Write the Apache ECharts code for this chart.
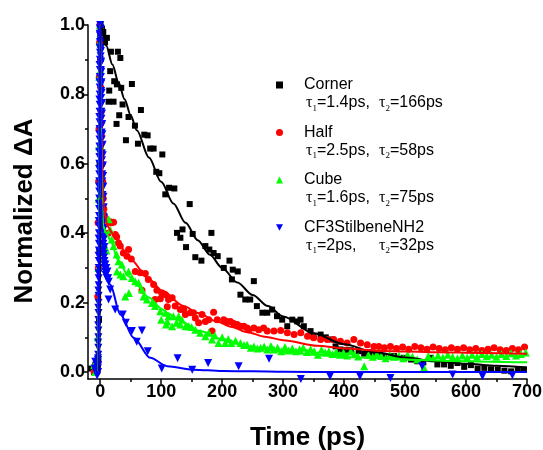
<!DOCTYPE html>
<html>
<head>
<meta charset="utf-8">
<script src="https://cdn.jsdelivr.net/npm/echarts@6/dist/echarts.min.js"></script>
<style>
  html, body { margin: 0; padding: 0; background: #fff; }
  #chart { width: 543px; height: 450px; }
</style>
</head>
<body>
<div id="chart"></div>
<script>
// Transient absorption kinetics, normalized, with biexponential fits.

const seriesNames = ['Corner', 'Half', 'Cube', 'CF3StilbeneNH2'];
const tauFast = ['=1.4ps,', '=2.5ps,', '=1.6ps,', '=2ps,'];
const tauSlow = ['=166ps', '=58ps', '=75ps', '=32ps'];

const xMajorTicks = [0, 100, 200, 300, 400, 500, 600, 700];
const xMinorTicks = [50, 150, 250, 350, 450, 550, 650];
const yMajorTicks = [0, 0.2, 0.4, 0.6, 0.8, 1.0];
const yMinorTicks = [0.1, 0.3, 0.5, 0.7, 0.9];

// [time (ps), normalized dA]
const cornerPts = [
  [-15,0.01],[-10,0.0],[-8,0.02],[-6,0.0],[-4,0.01],[-3,0.03],[-2,0.15],[-1.5,0.35],[-1,0.6],[-0.5,0.85],
  [0,0.97],[0.5,1.0],[1,0.99],[2,0.98],[3,0.99],[4,0.97],[5,0.98],[6,0.96],[8,0.95],
  [11,0.963],[13.7,0.779],[14.8,0.811],[16.4,0.867],[17.6,0.923],[21.9,0.779],[23,0.838],[26.8,0.715],
  [27.4,0.829],[29,0.923],[31.2,0.74],[33,0.905],[34.5,0.819],[36.7,0.771],[42.2,0.668],[46.5,0.735],
  [52,0.83],[57,0.71],[61.9,0.658],[66.8,0.755],[72.3,0.684],[77.8,0.682],[82,0.644],[87.6,0.644],
  [92,0.577],[97,0.573],[101.9,0.627],[106.8,0.512],[113,0.531],[121.6,0.529],[126,0.401],[131.5,0.387],
  [135,0.411],[140.8,0.36],[146.8,0.484],[151.7,0.398],[156,0.331],[166,0.321],[172.5,0.363],[179,0.353],
  [182.4,0.401],[186,0.343],[192.7,0.334],[202.7,0.3],[212,0.321],[216,0.267],[217.4,0.295],[225.6,0.29],
  [230,0.223],[238,0.209],[246,0.209],[252,0.262],[257,0.19],[266,0.171],[274,0.171],[282,0.18],
  [290,0.161],[298.5,0.151],[306.8,0.132],[315,0.151],[323,0.146],[328.6,0.151],[334,0.132],[345,0.118],
  [350,0.103],[361.5,0.108],[370,0.1],[380,0.094],[386,0.074],[394,0.065],[402,0.063],[411,0.063],
  [424,0.06],[433,0.053],[441,0.057],[449,0.053],[457,0.05],[465,0.046],[482,0.046],[498,0.041],
  [510,0.036],[520,0.031],[530,0.028],[542,0.041],[553,0.022],[564,0.022],[575,0.018],[586,0.026],
  [597,0.015],[608,0.02],[619,0.01],[630,0.012],[641,0.008],[652,0.007],[663,0.004],[674,0.002],
  [685,0.006],[695,0.007]
];
const halfPts = [
  [-10,0.0],[-8,0.01],[-6,0.02],[-5,0.0],[-4,0.218],[-3.5,0.43],[-3,0.3],[-2.5,0.55],[-2,0.7],[-1.5,0.85],
  [-1,0.95],[-0.5,1.0],[0,0.98],[0.5,0.9],[1,0.82],[1.5,0.75],[2,0.68],[3,0.6],[4,0.55],[5,0.5],
  [6,0.47],[7,0.45],[8,0.44],[10,0.43],[13,0.4],[16,0.433],[18,0.43],[21.9,0.432],[24.6,0.396],[27,0.39],
  [30,0.372],[32.9,0.363],[38,0.343],[44,0.334],[46.5,0.353],[51,0.326],[57.5,0.29],[65.7,0.286],
  [68.5,0.236],[74,0.284],[79,0.267],[87.6,0.252],[90,0.209],[93,0.236],[98.6,0.211],[101,0.228],
  [107,0.223],[110,0.188],[112,0.209],[118,0.214],[123,0.19],[131.5,0.18],[137,0.18],[139.7,0.166],
  [148,0.171],[153,0.171],[156,0.156],[161.5,0.142],[167,0.166],[172.5,0.146],[178,0.151],[183.5,0.118],
  [186,0.172],[192,0.151],[202.6,0.151],[208,0.146],[213.6,0.146],[219,0.14],[224.6,0.137],[230,0.132],
  [235.5,0.132],[241,0.127],[243.7,0.122],[252,0.127],[260,0.122],[268,0.127],[274,0.118],[285,0.118],
  [296,0.12],[307,0.113],[318,0.108],[329,0.113],[340,0.103],[350,0.099],[361.5,0.094],[372.5,0.094],
  [383,0.094],[394,0.089],[405,0.084],[416,0.094],[427,0.084],[438,0.079],[449,0.074],[457,0.074],
  [466,0.07],[476,0.074],[486,0.068],[496,0.072],[506,0.066],[516,0.074],[526,0.07],[536,0.066],
  [546,0.072],[556,0.068],[566,0.064],[576,0.07],[586,0.066],[596,0.07],[606,0.064],[616,0.068],
  [626,0.062],[636,0.066],[646,0.07],[656,0.064],[666,0.062],[676,0.068],[686,0.064],[696,0.072]
];
const cubePts = [
  [-10,0.02],[-8,0.0],[-6,0.03],[-5,0.01],[-4,0.1],[-3.5,0.05],[-3,0.3],[-2.5,0.5],[-2,0.65],[-1.5,0.85],
  [-1,0.95],[-0.5,1.0],[0,0.97],[0.5,0.87],[1,0.75],[1.5,0.65],[2,0.55],[3,0.47],[4,0.42],[5,0.4],
  [6,0.37],[8,0.36],[10,0.35],[13.7,0.44],[16.4,0.41],[19,0.382],[22,0.363],[27,0.339],[27.5,0.29],
  [30,0.319],[33,0.281],[35.6,0.31],[38,0.276],[41,0.218],[46.5,0.29],[47,0.228],[52,0.271],[57.5,0.262],
  [63,0.257],[68.5,0.238],[71,0.218],[76.7,0.209],[85,0.199],[90,0.19],[98.6,0.175],[100,0.151],
  [107,0.171],[108,0.137],[110,0.146],[112,0.161],[118,0.132],[120,0.161],[125,0.142],[128.6,0.161],
  [131.5,0.137],[134,0.151],[140,0.132],[145,0.132],[150,0.13],[156,0.122],[164,0.113],[172.5,0.103],
  [178,0.113],[183.5,0.094],[188,0.105],[194,0.084],[200,0.1],[205,0.084],[210,0.095],[215,0.084],
  [222,0.09],[230,0.084],[236,0.078],[241,0.079],[247,0.07],[252,0.074],[258,0.068],[263,0.07],
  [269,0.074],[274,0.065],[280,0.075],[285,0.065],[291,0.07],[297,0.06],[303,0.072],[309,0.062],
  [315,0.068],[321,0.06],[327,0.066],[333,0.07],[339,0.058],[345,0.066],[351,0.06],[357,0.05],
  [363,0.064],[369,0.056],[375,0.06],[381,0.052],[387,0.058],[393,0.05],[399,0.056],[405,0.048],
  [411,0.06],[417,0.052],[423,0.045],[433,0.017],[440,0.05],[447,0.044],[454,0.052],[461,0.046],
  [468,0.04],[475,0.05],[482,0.044],[490,0.048],[497,0.04],[504,0.05],[512,0.044],[520,0.036],
  [531,0.013],[538,0.046],[546,0.04],[554,0.048],[562,0.042],[570,0.05],[578,0.044],[586,0.04],
  [594,0.048],[602,0.042],[610,0.05],[618,0.044],[626,0.052],[634,0.046],[642,0.05],[650,0.044],
  [658,0.052],[666,0.046],[674,0.054],[682,0.048],[690,0.052],[698,0.056]
];
const stilbenePts = [
  [-9,0.01],[-8,0.03],[-7,0.0],[-6,0.02],[-5,-0.01],[-4.5,0.03],[-4,0.01],[-3.6,0.04],[-3.4,0.0],
  [-3.3,0.02],[-3.2,0.05],[-3.1,0.07],[-3.0,0.1],[-2.9,0.12],[-2.85,0.15],[-2.75,0.17],[-2.7,0.2],
  [-2.6,0.22],[-2.5,0.25],[-2.45,0.27],[-2.35,0.3],[-2.3,0.32],[-2.2,0.35],[-2.1,0.37],[-2.05,0.4],
  [-1.95,0.42],[-1.9,0.45],[-1.8,0.47],[-1.7,0.5],[-1.65,0.52],[-1.55,0.55],[-1.5,0.57],[-1.4,0.6],
  [-1.3,0.62],[-1.25,0.65],[-1.15,0.67],[-1.1,0.7],[-1.0,0.72],[-0.9,0.75],[-0.85,0.77],[-0.75,0.8],
  [-0.7,0.82],[-0.6,0.85],[-0.5,0.87],[-0.45,0.9],[-0.35,0.92],[-0.3,0.95],[-0.2,0.97],[-0.1,0.99],[0,1.0],
  [-3.5,0.035],[-3.4,0.085],[-3.25,0.135],[-3.1,0.185],[-2.95,0.235],[-2.8,0.285],[-2.65,0.335],
  [-2.5,0.385],[-2.35,0.435],[-2.2,0.485],[-2.05,0.535],[-1.9,0.585],[-1.75,0.635],[-1.6,0.685],
  [-1.45,0.735],[-1.3,0.785],[-1.15,0.835],[-1.0,0.885],[-0.85,0.935],[-0.7,0.975],
  [0.2,0.99],[0.35,0.97],[0.5,0.95],[0.6,0.93],[0.75,0.91],[0.9,0.89],[1.0,0.87],[1.15,0.85],[1.3,0.83],
  [1.45,0.81],[1.6,0.79],[1.75,0.77],[1.9,0.75],[2.05,0.73],[2.2,0.71],[2.35,0.69],[2.5,0.67],[2.65,0.65],
  [2.8,0.63],[2.95,0.61],[3.1,0.59],[3.25,0.57],[3.4,0.55],[3.6,0.53],[3.75,0.51],[3.9,0.49],[4.1,0.47],
  [4.3,0.45],[4.5,0.43],[4.7,0.41],[4.9,0.39],[5.2,0.37],[5.5,0.35],[5.8,0.34],[6.2,0.33],[6.6,0.31],
  [0.6,0.985],[0.9,0.955],[1.2,0.925],[1.5,0.895],[1.8,0.865],[2.1,0.835],[2.4,0.805],[2.7,0.775],
  [3.0,0.745],[3.3,0.715],[3.6,0.685],[3.9,0.655],[4.2,0.625],[4.5,0.595],[4.8,0.565],[5.1,0.535],
  [5.4,0.505],[5.7,0.475],[6.0,0.445],[6.3,0.415],[6.6,0.385],[6.9,0.36],
  [7,0.32],[7.5,0.3],[8,0.29],[8.5,0.31],[9,0.28],[10,0.3],[11,0.27],[12,0.29],[13,0.27],[14,0.26],
  [13.7,0.209],[16.4,0.238],[24.6,0.18],[37,0.166],[42,0.142],[52,0.118],[60,0.087],[68.5,0.12],
  [78,0.06],[101,0.01],[127,0.04],[151,0.007],[177,0.026],[227,0.017],[277,0.038],[329,-0.02],
  [377,-0.012],[426,-0.012],[476,-0.017],[528,0.017],[578,-0.007],[627,-0.012],[676,-0.009]
];

// Fitted curves
const cornerFit = [
  [-8,0],[-3,0],[-1,0.02],[0,0.6],[1,1.0],[2,0.995],[10,0.94],[20,0.886],[30,0.835],[40,0.786],
  [50,0.74],[60,0.697],[80,0.618],[100,0.548],[120,0.486],[140,0.43],[160,0.38],[180,0.338],[200,0.3],
  [225,0.258],[250,0.222],[275,0.19],[300,0.16],[350,0.112],[400,0.08],[450,0.058],[500,0.042],
  [550,0.031],[600,0.024],[650,0.018],[700,0.013]
];
const halfFit = [
  [-8,0],[-3,0],[-2,0.3],[-1,0.8],[0,1.0],[1,0.85],[2,0.7],[4,0.55],[6,0.48],[8,0.45],[12,0.42],
  [20,0.4],[25,0.39],[46.5,0.33],[82,0.265],[101,0.235],[137,0.19],[160,0.17],[192,0.145],[216,0.13],
  [241,0.115],[270,0.102],[300,0.092],[356,0.076],[400,0.068],[465,0.061],[550,0.057],[625,0.055],
  [700,0.053]
];
const cubeFit = [
  [-8,0],[-3,0],[-2,0.3],[-1,0.8],[0,1.0],[1,0.75],[2,0.58],[3,0.48],[5,0.42],[10,0.4],[16.4,0.38],
  [30,0.32],[46.5,0.276],[57.5,0.255],[80,0.215],[101,0.182],[110,0.17],[130,0.148],[164,0.118],
  [200,0.095],[246,0.072],[300,0.058],[350,0.05],[411,0.043],[500,0.036],[575,0.032],[640,0.03],
  [700,0.028]
];
const stilbeneFit = [
  [-8,0],[-2.5,0],[-1.5,0.5],[-0.5,0.95],[0,1.0],[1,0.7],[2,0.5],[3,0.4],[5,0.32],[8,0.29],
  [16.4,0.252],[33,0.166],[55,0.099],[82,0.041],[110,0.017],[153,0.007],[200,0.003],[250,0.002],
  [300,0.001],[400,0.0],[700,0.0]
];

const colors = ['#000000', '#ff0000', '#00ff00', '#0000ff'];
const downTriangle = 'path://M0,0L10,0L5,9Z';
const symbols = ['rect', 'circle', 'triangle', downTriangle];
const symbolSizes = [6, 7, 8, 8];
const pointSets = [cornerPts, halfPts, cubePts, stilbenePts];
const fitSets = [cornerFit, halfFit, cubeFit, stilbeneFit];

const chart = echarts.init(document.getElementById('chart'));

// Each sample set is followed by its fit, so later samples sit on top of earlier ones.
const allSeries = [];
pointSets.forEach((pts, i) => {
  allSeries.push({
    name: seriesNames[i],
    type: 'scatter',
    data: pts,
    symbol: symbols[i],
    symbolSize: symbolSizes[i],
    itemStyle: { color: colors[i], opacity: 1 },
    animation: false
  });
  allSeries.push({
    name: seriesNames[i] + ' fit',
    type: 'line',
    data: fitSets[i],
    showSymbol: false,
    symbol: 'none',
    smooth: 0.3,
    smoothMonotone: 'x',
    lineStyle: { color: colors[i], width: 2 },
    animation: false
  });
});

const tickFont = { fontFamily: 'Arial, "Liberation Sans", sans-serif', fontWeight: 'bold', fontSize: 18, color: '#000' };
const axisLine = { show: true, onZero: false, lineStyle: { color: '#000', width: 1.5 } };

const legendTop = [80, 127.5, 175, 222.5];
const tauGraphics = [];
legendTop.forEach((y, i) => {
  const rich = {
    g: { fontFamily: '"Liberation Serif", "DejaVu Serif", serif', fontSize: 16, color: '#000', verticalAlign: 'middle', lineHeight: 20 },
    s: { fontFamily: '"Liberation Serif", "DejaVu Serif", serif', fontSize: 9, color: '#000', verticalAlign: 'bottom', lineHeight: 20 },
    n: { fontFamily: 'Arial, "Liberation Sans", sans-serif', fontSize: 16, color: '#000', verticalAlign: 'middle', lineHeight: 20 }
  };
  tauGraphics.push({
    type: 'text', x: 306, y: y + 23,
    style: { text: '{g|τ}{s|1}{n|' + tauFast[i] + '}', rich: rich, verticalAlign: 'middle' }
  });
  tauGraphics.push({
    type: 'text', x: 379, y: y + 23,
    style: { text: '{g|τ}{s|2}{n|' + tauSlow[i] + '}', rich: rich, verticalAlign: 'middle' }
  });
});

chart.setOption({
  backgroundColor: '#fff',
  animation: false,
  grid: { left: 88, top: 25, width: 439, height: 354, containLabel: false, outerBoundsMode: 'none' },
  legend: {
    orient: 'vertical',
    left: 271,
    top: 72,
    itemWidth: 7,
    itemHeight: 7,
    itemGap: 31.5,
    selectedMode: false,
    data: seriesNames.map((n, i) => ({ name: n, icon: symbols[i] })),
    textStyle: {
      fontFamily: 'Arial, "Liberation Sans", sans-serif',
      fontSize: 16,
      lineHeight: 16,
      color: '#000',
      padding: [0, 0, 0, 16]
    }
  },
  xAxis: [
    {
      type: 'value', min: -20, max: 700,
      name: 'Time (ps)', nameLocation: 'middle', nameGap: 46,
      nameTextStyle: { fontFamily: 'Arial, "Liberation Sans", sans-serif', fontWeight: 'bold', fontSize: 26, color: '#000' },
      axisLine: axisLine,
      axisTick: { show: true, inside: false, length: 5, customValues: xMajorTicks, lineStyle: { color: '#000', width: 1.5 } },
      axisLabel: Object.assign({ margin: 4, customValues: xMajorTicks }, tickFont),
      splitLine: { show: false }
    },
    {
      type: 'value', min: -20, max: 700, position: 'bottom', gridIndex: 0,
      axisLine: { show: false, onZero: false },
      axisTick: { show: true, inside: false, length: 3, customValues: xMinorTicks, lineStyle: { color: '#000', width: 1.5 } },
      axisLabel: { show: false },
      splitLine: { show: false }
    }
  ],
  yAxis: [
    {
      type: 'value', min: -0.02, max: 1.0,
      name: 'Normalized ΔA', nameLocation: 'middle', nameGap: 50, nameRotate: 90,
      nameTextStyle: { fontFamily: 'Arial, "Liberation Sans", sans-serif', fontWeight: 'bold', fontSize: 26, color: '#000', padding: [0, 18, 0, 0] },
      axisLine: axisLine,
      axisTick: { show: true, inside: false, length: 5, customValues: yMajorTicks, lineStyle: { color: '#000', width: 1.5 } },
      axisLabel: Object.assign({ margin: 3, customValues: yMajorTicks, formatter: v => v.toFixed(1) }, tickFont),
      splitLine: { show: false }
    },
    {
      type: 'value', min: -0.02, max: 1.0, position: 'left',
      axisLine: { show: false, onZero: false },
      axisTick: { show: true, inside: false, length: 3, customValues: yMinorTicks, lineStyle: { color: '#000', width: 1.5 } },
      axisLabel: { show: false },
      splitLine: { show: false }
    }
  ],
  graphic: tauGraphics,
  series: allSeries
});
</script>
</body>
</html>
